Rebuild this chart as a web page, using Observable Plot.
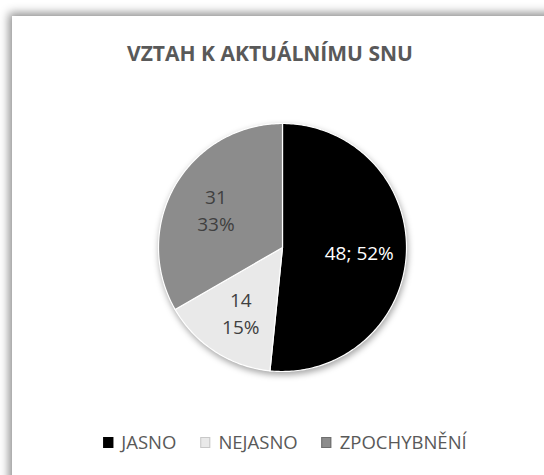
<!DOCTYPE html>
<html><head><meta charset="utf-8">
<script src="https://cdn.jsdelivr.net/npm/d3@7"></script>
<script src="https://cdn.jsdelivr.net/npm/@observablehq/plot@0.6"></script>
<style>
html,body{margin:0;padding:0;background:#fff;overflow:hidden;width:544px;height:475px;position:relative;}
#card{position:absolute;left:12px;top:16px;width:620px;height:520px;background:#fff;box-shadow:0 0 9px 3px rgba(0,0,0,0.45);}
#title{position:absolute;left:270px;top:40px;transform:translateX(-50%);white-space:nowrap;font-family:"Open Sans";font-weight:bold;font-size:21px;line-height:26px;color:#595959;}
#chart{position:absolute;left:152px;top:117px;}
#legend{position:absolute;left:285px;top:430px;transform:translateX(-50%);white-space:nowrap;display:flex;align-items:center;gap:24px;font-family:"Open Sans";font-size:18.5px;line-height:24px;color:#595959;}
.item{display:flex;align-items:center;gap:8px;}
.sw{width:8px;height:9px;display:inline-block;}
</style></head><body>
<div id="card"></div>
<div id="title">VZTAH K AKTUÁLNÍMU SNU</div>
<div id="chart"></div>
<div id="legend"></div>
<script>
const categories = ["JASNO", "NEJASNO", "ZPOCHYBNĚNÍ"];
const values = [48, 14, 31];
const percents = ["52%", "15%", "33%"];
const separators = ["; ", "\n", "\n"];
const colors = ["#000000", "#e9e9e9", "#8c8c8c"];
const labelColors = ["#ffffff", "#404040", "#404040"];

const slices = categories.map((c, i) => ({cat: c, value: values[i], i}));
const arcs = d3.pie().sort(null).value(d => d.value)(slices);

const pts = [];
const labels = [];
arcs.forEach(a => {
  const c = a.data.cat;
  pts.push({cat: c, x: 0, y: 0});
  const n = Math.max(2, Math.ceil((a.endAngle - a.startAngle) / (Math.PI / 180)));
  for (let k = 0; k <= n; k++) {
    const t = a.startAngle + (a.endAngle - a.startAngle) * k / n;
    pts.push({cat: c, x: Math.sin(t), y: Math.cos(t)});
  }
  pts.push({cat: c, x: 0, y: 0});
  const mid = (a.startAngle + a.endAngle) / 2;
  const r = 0.62;
  const i = a.data.i;
  labels.push({x: r * Math.sin(mid), y: r * Math.cos(mid),
    text: values[i] + separators[i] + percents[i], color: labelColors[i]});
});

const chart = Plot.plot({
  width: 260, height: 260, margin: 6,
  x: {domain: [-1, 1], axis: null},
  y: {domain: [-1, 1], axis: null},
  color: {domain: categories, range: colors},
  style: {background: "transparent", overflow: "visible"},
  marks: [
    Plot.line(pts, {x: "x", y: "y", z: "cat", fill: "cat", stroke: "white", strokeWidth: 1.2, strokeLinejoin: "round", curve: "linear"}),
    Plot.text(labels, {filter: d => d.color === "#ffffff", x: "x", y: "y", text: "text", fill: "#ffffff", fontSize: 19, fontFamily: "Open Sans", lineHeight: 1.4}),
    Plot.text(labels, {filter: d => d.color !== "#ffffff", x: "x", y: "y", text: "text", fill: "#404040", fontSize: 19, fontFamily: "Open Sans", lineHeight: 1.4})
  ]
});
const lineG = chart.querySelector('g[aria-label="line"]');
if (lineG) lineG.style.filter = "drop-shadow(1px 3px 3px rgba(0,0,0,0.35))";
document.getElementById("chart").appendChild(chart);

const legend = document.getElementById("legend");
categories.forEach((c, i) => {
  const it = document.createElement("span");
  it.className = "item";
  const sw = document.createElement("span");
  sw.className = "sw";
  sw.style.background = colors[i];
  sw.style.border = "1px solid " + (i === 1 ? "#c8c8c8" : i === 2 ? "#6e6e6e" : "#000");
  const tx = document.createElement("span");
  tx.textContent = c;
  it.appendChild(sw); it.appendChild(tx);
  legend.appendChild(it);
});
</script>
</body></html>
